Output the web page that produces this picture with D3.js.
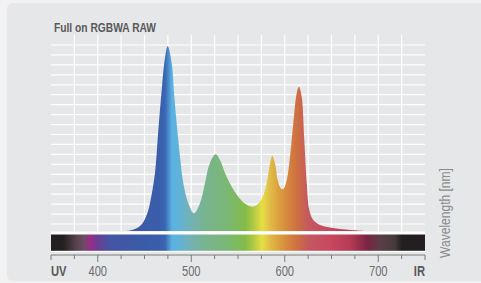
<!DOCTYPE html>
<html><head><meta charset="utf-8">
<script src="https://cdn.jsdelivr.net/npm/d3@7/dist/d3.min.js"></script>
<style>
html,body{margin:0;padding:0;background:#f2f2f2;}
svg{display:block;}
</style></head>
<body>
<svg id="c" width="481" height="283"></svg>
<script>
// Spectrum outline: wavelength (nm) and relative intensity (0-100)
const wavelengths = [427,434.5,442,447.3,452.7,455.9,461.2,464.8,468.4,471.2,474.8,479.1,481.9,485.1,488,491.5,496.8,502.9,509.4,514.7,520,526.1,530.7,536.1,543.3,550.3,558.6,566.4,573.5,578.9,582.4,585,586.7,589.6,592.5,595.7,598.4,602.1,605.6,609.1,612.8,615.2,618.1,620.9,623.5,626.3,630.5,637.7,648.4,669.8,685.8];
const intensity   = [0,0.3,1.5,3.6,8.7,14.3,29.6,51.5,71.9,85.7,94.4,85.7,68.5,51.5,37.9,24.5,14.3,9.0,14.3,24.5,34.7,39.1,36.2,29.6,22.6,17.5,13.6,12.4,14.9,20.9,29.4,36.2,38.4,34.5,26.0,21.8,21.3,26.0,37.9,54.9,70.3,73.6,68.5,46.4,24.5,10.7,5.6,3.1,1.8,0.5,0];
// Visible spectrum colour stops
const stopNm    = [350,362.8,370,378,386,391.7,400,413,440,466,472,479.4,488,498.7,515,540,558,568,575.7,583,592,605.6,615,625,648.4,669.8,688,702,718,725,750];
const stopColor = ["#231f20","#231f20","#3a3334","#5a4450","#6e4c66","#9c2a8a","#6a3e94","#4454a2","#3c5aa6","#3a5eac","#3a66b2","#5ab2e2","#62b2d6","#72b2b4","#78b48e","#7ab872","#84bc48","#b8cc44","#e6e040","#e2c048","#dca440","#d4803e","#cc6c44","#c45860","#c84860","#b43c54","#7c2444","#5a3e46","#463a3c","#231f20","#231f20"];
const xTicks = d3.range(350, 751, 25);
const majorTicks = [400,500,600,700];
const gridRows = d3.range(0, 19);

const svg = d3.select("#c");
const x = d3.scaleLinear().domain([350, 750]).range([51, 425]);
const y = d3.scaleLinear().domain([0, 100]).range([231, 35]);
const gy = d3.scaleLinear().domain([0, 18]).range([224, 45]);
const font = "'Liberation Sans', Arial, sans-serif";

function ctext(sel, tx, ty, str, opts) {
  const t = sel.append("text")
    .attr("transform", `translate(${tx},${ty})` + (opts.rot ? ` rotate(${opts.rot})` : "") + ` scale(${opts.sx},1)`)
    .attr("font-family", font).attr("font-size", opts.size).attr("fill", opts.fill)
    .attr("text-anchor", opts.anchor || "start").text(str);
  if (opts.bold) t.attr("font-weight", "bold");
  return t;
}

// panel
svg.append("rect").attr("x",7).attr("y",3).attr("width",490).attr("height",278).attr("rx",6).attr("fill","#e6e7e8");

const defs = svg.append("defs");
const grad = defs.append("linearGradient").attr("id","spec").attr("gradientUnits","userSpaceOnUse")
  .attr("x1",x(350)).attr("x2",x(750)).attr("y1",0).attr("y2",0);
stopNm.forEach((n,i)=>grad.append("stop").attr("offset",(n-350)/400).attr("stop-color",stopColor[i]));

// title
ctext(svg, 54, 31.5, "Full on RGBWA RAW", {size:12.5, sx:0.82, fill:"#58595b", bold:true});

// grid
const g = svg.append("g").attr("stroke","#ffffff").attr("stroke-width",1.2);
g.selectAll("line.h").data(gridRows).enter().append("line")
  .attr("x1",x(350)).attr("x2",x(750)).attr("y1",d=>gy(d)).attr("y2",d=>gy(d));
g.selectAll("line.v").data(xTicks.filter(d=>d>350&&d<750)).enter().append("line")
  .attr("x1",d=>x(d)).attr("x2",d=>x(d)).attr("y1",35).attr("y2",231);

// spectrum
const pts = wavelengths.map((w,i)=>[w,intensity[i]]);
const area = d3.area().x(d=>x(d[0])).y0(y(0)).y1(d=>y(d[1])).curve(d3.curveCatmullRom.alpha(0.5));
svg.append("path").datum(pts).attr("d",area).attr("fill","url(#spec)");

// colour bar
svg.append("rect").attr("x",x(350)).attr("y",231.5).attr("width",x(750)-x(350)).attr("height",20.5).attr("fill","#ffffff");
svg.append("rect").attr("x",x(350)).attr("y",234.5).attr("width",x(750)-x(350)).attr("height",16.3).attr("fill","url(#spec)");

// axis
const ax = svg.append("g");
ax.append("line").attr("x1",x(350)).attr("x2",x(750)).attr("y1",255).attr("y2",255).attr("stroke","#7a7a7a").attr("stroke-width",1);
ax.selectAll("line.t").data(xTicks).enter().append("line")
  .attr("x1",d=>x(d)).attr("x2",d=>x(d)).attr("y1",255)
  .attr("y2",d=>majorTicks.includes(d)?262:(d===350||d===750?260:259))
  .attr("stroke","#7a7a7a").attr("stroke-width",1);
majorTicks.forEach(d => ctext(ax, x(d), 276, String(d), {size:14, sx:0.8, fill:"#6d6e71", anchor:"middle"}));
ctext(ax, x(350), 276, "UV", {size:14, sx:0.8, fill:"#58595b", bold:true});
ctext(ax, x(750), 276, "IR", {size:14, sx:0.8, fill:"#58595b", bold:true, anchor:"end"});

ctext(svg, 450, 213, "Wavelength [nm]", {size:14, sx:0.86, fill:"#8a8b8d", anchor:"middle", rot:-90});
</script>
</body></html>
